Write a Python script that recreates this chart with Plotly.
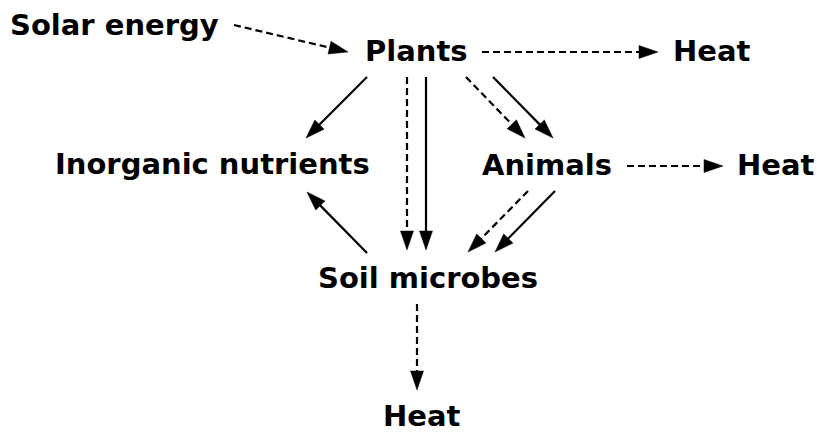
import plotly.graph_objects as go
import math

# Node labels and their centres (pixel space of the 817x432 canvas)
node_labels = ["Solar energy", "Plants", "Heat", "Inorganic nutrients", "Animals",
               "Heat", "Soil microbes", "Heat"]
node_x = [114, 416, 712, 212, 547, 776, 428, 422]
node_y = [25, 51, 51, 164, 165, 165, 278, 416]

# Edges: start point, arrow tip, style
edge_x0 = [234, 482, 367, 407, 426, 466, 493, 627, 528, 555, 367, 417]
edge_y0 = [25, 52, 77, 77, 77, 77, 77, 166, 191, 191, 253, 304]
edge_x1 = [348, 658, 306, 407, 426, 525, 553, 723, 468, 495, 307, 417]
edge_y1 = [52, 52, 138, 250, 250, 138, 138, 166, 252, 252, 192, 390]
edge_dash = ["dash", "dash", "solid", "dash", "solid", "dash", "solid", "dash",
             "dash", "solid", "solid", "dash"]

HEAD_LEN = 19
HEAD_HALF = 6.5
FONT = "DejaVu Sans"

fig = go.Figure()

for x0, y0, x1, y1, d in zip(edge_x0, edge_y0, edge_x1, edge_y1, edge_dash):
    L = math.hypot(x1 - x0, y1 - y0)
    ux, uy = (x1 - x0) / L, (y1 - y0) / L
    bx, by = x1 - ux * HEAD_LEN, y1 - uy * HEAD_LEN
    fig.add_trace(go.Scatter(
        x=[x0, bx + ux * 2], y=[y0, by + uy * 2], mode="lines",
        line=dict(color="black", width=2.2, dash="7px,4px" if d == "dash" else "solid"),
        hoverinfo="skip", showlegend=False))
    px, py = -uy, ux
    fig.add_trace(go.Scatter(
        x=[x1, bx + px * HEAD_HALF, bx - px * HEAD_HALF, x1],
        y=[y1, by + py * HEAD_HALF, by - py * HEAD_HALF, y1],
        mode="lines", fill="toself", fillcolor="black",
        line=dict(color="black", width=0.5),
        hoverinfo="skip", showlegend=False))

for lab, x, y in zip(node_labels, node_x, node_y):
    fig.add_annotation(x=x, y=y, text="<b>" + lab + "</b>", showarrow=False,
                       xanchor="center", yanchor="middle",
                       font=dict(family=FONT, size=29, color="black"))

fig.update_layout(
    width=817, height=432,
    margin=dict(l=0, r=0, t=0, b=0),
    paper_bgcolor="white", plot_bgcolor="white",
    xaxis=dict(range=[0, 817], visible=False, fixedrange=True),
    yaxis=dict(range=[432, 0], visible=False, fixedrange=True),
)

fig.write_html("out.html", config={"displayModeBar": False},
               post_script="document.body.style.margin='0';document.body.style.overflow='hidden';")
